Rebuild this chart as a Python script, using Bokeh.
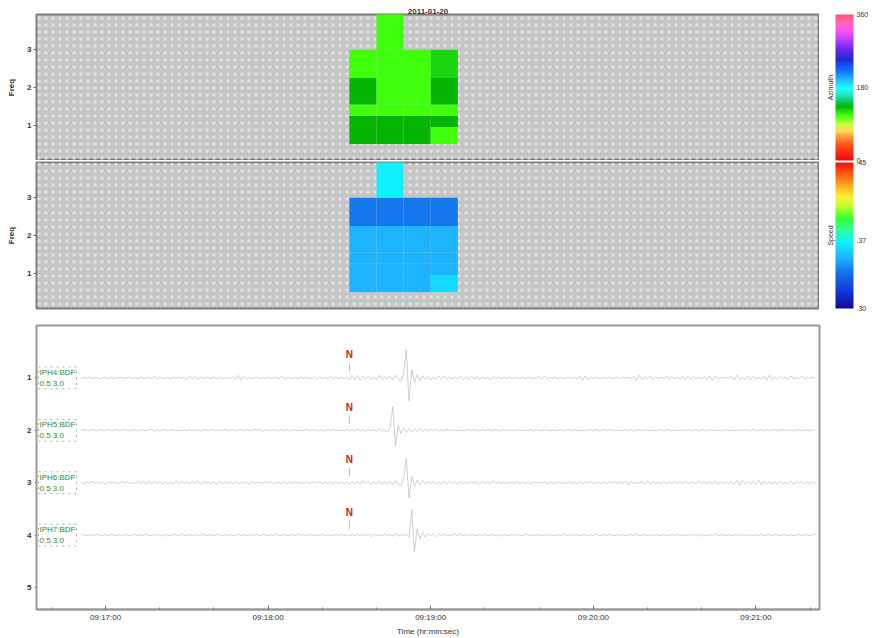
import numpy as np
import pandas as pd
from bokeh.plotting import figure
from bokeh.layouts import column, row
from bokeh.models import (Range1d, FixedTicker, ColorBar,
                          LinearColorMapper, BoxAnnotation, ColumnDataSource, Label,
                          DatetimeTickFormatter, Title)
from bokeh.core.properties import value
from bokeh.embed import file_html
from bokeh.resources import INLINE

# ---------------- data ----------------
day = "2011-01-20"
title_text = "2011-01-20"
time_window = ["09:16:34.5", "09:21:23.5"]
x_tick_labels = ["09:17:00", "09:18:00", "09:19:00", "09:20:00", "09:21:00"]
minor_tick_step_s = 20

# F-K cells: 10 s windows x frequency bands (None = no detection)
cell_time_edges = ["09:18:30", "09:18:40", "09:18:50", "09:19:00", "09:19:10"]
freq_edges = [0.5, 0.95, 1.25, 1.55, 2.25, 3.0, 4.0]
azimuth = [
    [133, 133, 133, 112],
    [133, 133, 133, 133],
    [112, 112, 112, 112],
    [133, 112, 112, 133],
    [112, 112, 112, 125],
    [None, 112, None, None],
]
speed = [
    [0.352, 0.352, 0.352, 0.362],
    [0.352, 0.352, 0.352, 0.352],
    [0.352, 0.352, 0.352, 0.352],
    [0.352, 0.352, 0.352, 0.352],
    [0.338, 0.338, 0.338, 0.338],
    [None, 0.368, None, None],
]
freq_ticks = [1, 2, 3]
azimuth_range = [0, 360]
azimuth_ticks = [0, 180, 360]
speed_range = [0.30, 0.45]
speed_ticks = [0.30, 0.37, 0.45]
speed_tick_labels = [".30", ".37", ".45"]

# waveforms
channels = ["IPH4:BDF", "IPH5:BDF", "IPH6:BDF", "IPH7:BDF"]
band_label = "0.5 3.0"
trace_rows = [1, 2, 3, 4]
wave_ticks = [1, 2, 3, 4, 5]
trace_start = "09:16:51"
sample_interval_s = 1.0
pick_time = "09:18:30"
pick_phase = "N"

amp_iph4 = [
    0, 1, -1, 2, -1, 0, 1, -2, 1, 0, -1, 2, -2, 1, 0, 1, -1, 0, 2, -1,
    1, -2, 2, -1, 0, 1, -1, 3, -3, 2, -1, 0, 1, -2, 1, 0, 2, -1, 1, -3,
    4, -2, 3, -4, 2, -1, 1, 0, -1, 2, -2, 1, -1, 0, 1, -1, 2, -3, 5, -4,
    3, -2, 1, -1, 0, 2, -2, 1, -1, 2, -1, 0, 1, -2, 3, -2, 1, 0, -1, 1,
    -2, 2, -1, 1, 0, -1, 2, -3, 2, -1, 1, -2, 3, -2, 1, -1, 2, -2, 1, -4,
    5, -3, 4, -5, 3, -2, 4, -3, 2, -4, 5, -3, 2, -2, 3, -4, 5, -3, -6, 8,
    53, -44, 16, -9, 6, -5, 4, -3, 3, -4, 2, -3, 3, -2, 4, -3, 2, -3, 2, -2,
    4, -3, 2, -3, 4, -2, 3, -4, 2, -2, 1, -3, 2, -1, 2, -2, 1, -1, 2, -1,
    0, 1, -1, 2, -2, 1, 0, -1, 1, 2, -3, 4, -2, 1, -1, 2, -2, 1, -1, 0,
    1, -1, 2, -2, 3, -5, 4, -3, 2, -2, 1, -1, 0, 1, -1, 2, -1, 0, 1, -2,
    2, -1, 1, -2, 3, -4, 5, -3, 2, -1, 3, -4, 2, -1, 1, -2, 4, -3, 2, -1,
    1, -2, 3, -4, 4, -3, 2, -2, 1, -1, 2, -3, 4, -5, 3, -2, 1, -1, 2, -1,
    3, -4, 5, -3, 2, -3, 4, -4, 3, -2, 1, -2, 3, -4, 5, -3, 2, -2, 3, -1,
    2, -3, 4, -2, 1, -2, 3, -2, 1, -1, 2, -1,
]
amp_iph5 = [
    0, 1, 0, -1, 1, 0, -1, 1, 0, 0, 1, -1, 0, 1, -1, 0, 1, 0, -1, 1,
    0, -1, 1, 0, -1, 1, 2, -2, 1, -1, 0, 1, -1, 0, 1, -1, 0, 0, 1, -1,
    1, -1, 0, 1, -2, 1, 0, -1, 1, 0, -1, 1, -1, 2, -1, 0, 1, -1, 0, 1,
    -1, 1, 0, -1, 2, -1, 1, -2, 1, 0, -1, 1, 0, -1, 1, -1, 2, -2, 1, 0,
    -1, 1, -1, 2, -1, 0, 1, -1, 0, 1, -2, 2, -1, 1, 0, -1, 1, -2, 2, -1,
    1, -2, 3, -1, 1, -2, 2, -1, 1, -2, 3, -2, 1, -4, 5, 45, -30, 10, -6, 5,
    -4, 3, -3, 2, -3, 3, -2, 2, -2, 2, -1, 2, -2, 1, -1, 2, -1, 1, 0, -1,
    1, -1, 0, 1, -1, 1, 0, -1, 1, -1, 2, -1, 0, 1, -1, 0, 1, -1, 1, 0,
    -1, 1, 0, -1, 1, -1, 2, -2, 1, 0, -1, 1, 0, -1, 1, -1, 0, 1, -1, 0,
    1, -1, 1, 0, -1, 1, -1, 0, 1, -1, 2, -1, 0, 1, -1, 1, 0, -1, 1, -1,
    0, 1, -1, 1, -2, 1, 0, -1, 1, 0, -1, 1, -1, 0, 1, -1, 1, 0, -1, 1,
    -1, 0, 1, -1, 1, -1, 0, 1, -2, 1, 0, -1, 1, 0, -1, 1, -1, 0, 1, -1,
    1, -1, 0, 1, -1, 1, 0, -1, 2, -1, 0, 1, -1, 1, -1, 0, 1, -1, 0, 1,
    -1, 1, 0, -1, 1, 0, -1, 1, 0, -1, 1, 0,
]
amp_iph6 = [
    1, -2, 2, -1, 3, -2, 1, -1, 2, -3, 2, -1, 1, 0, -2, 3, -1, 2, -2, 1,
    -1, 3, -2, 2, -3, 4, -2, 1, -1, 2, -3, 3, -2, 1, -2, 4, -3, 2, -1, 1,
    -2, 3, -2, 4, -3, 2, -1, 1, -2, 3, -4, 3, -2, 2, -1, 1, -2, 3, -2, 1,
    -1, 2, -3, 2, -1, 1, 0, -1, 2, -1, 1, -2, 1, 0, -1, 2, -2, 1, -1, 2,
    -1, 1, -2, 2, -1, 0, 1, -1, 2, -2, 1, -1, 2, -3, 2, -1, 1, -2, 2, -3,
    3, -2, 2, -3, 4, -2, 3, -4, 2, -3, 4, -3, 2, -3, 3, -4, 4, -3, -6, 8,
    46, -29, 12, -7, 5, -4, 4, -3, 3, -2, 4, -3, 2, -3, 3, -2, 3, -2, 2, -3,
    3, -2, 1, -2, 2, -1, 2, -3, 2, -1, 1, -2, 3, -2, 1, -1, 2, -2, 1, 0,
    -1, 2, -2, 1, -1, 2, -3, 2, -1, 1, -1, 2, -2, 1, 0, -1, 2, -1, 1, -2,
    2, -1, 1, -2, 3, -2, 1, -1, 2, -2, 1, 0, -1, 1, -2, 2, -1, 1, -1, 2,
    -2, 3, -4, 3, -2, 1, -1, 2, -3, 4, -3, 2, -1, 1, -2, 3, -2, 1, -1, 2,
    -1, 1, -2, 2, -1, 0, 1, -2, 3, -2, 1, -1, 2, -3, 4, -3, 2, -1, 1, -1,
    2, -3, 4, -5, 4, -3, 2, -2, 3, -4, 5, -4, 3, -2, 1, -2, 3, -4, 3, -2,
    1, -2, 3, -3, 2, -1, 2, -2, 1, -1, 2, -1,
]
amp_iph7 = [
    0, 1, -1, 0, 1, -1, 2, -1, 0, 1, -1, 1, 0, -1, 1, -2, 1, 0, -1, 1,
    0, -1, 1, -1, 2, -1, 0, 1, -1, 1, -2, 1, 0, -1, 1, 0, -1, 2, -1, 0,
    1, -1, 0, 1, -2, 2, -1, 0, 1, -1, 1, 0, -2, 1, -1, 1, 0, -1, 2, -1,
    1, -1, 0, 1, -1, 2, -2, 1, 0, -1, 1, -1, 2, -1, 0, 1, -1, 0, 1, -1,
    2, -1, 1, -2, 1, 0, -1, 1, -1, 2, -2, 1, -1, 0, 1, -1, 2, -1, 1, -2,
    1, -1, 2, -2, 1, -1, 2, -3, 2, -1, 1, -2, 2, -1, 1, -2, 3, -2, 1, -2,
    2, -4, 48, -32, 12, -7, 5, -4, 3, -2, 2, -3, 2, -1, 2, -2, 1, -1, 2, -1,
    2, -1, 1, -2, 1, 0, -1, 1, -1, 2, -1, 0, 1, -1, 1, -2, 1, 0, -1, 1,
    -1, 1, 0, -1, 2, -1, 1, -1, 0, 1, -1, 1, -2, 1, 0, -1, 1, -1, 2, -1,
    0, 1, -1, 1, -1, 0, 1, -2, 1, -1, 2, -1, 0, 1, -1, 1, 0, -1, 1, -1,
    1, -1, 0, 1, -1, 2, -1, 0, 1, -1, 1, -2, 1, 0, -1, 1, -1, 0, 1, -1,
    2, -1, 1, -1, 0, 1, -1, 1, -2, 1, 0, -1, 1, -1, 2, -1, 0, 1, -1, 1,
    -1, 0, 1, -1, 1, -2, 1, 0, -1, 1, -1, 2, -1, 0, 1, -1, 1, 0, -1, 1,
    0, -1, 1, -1, 0, 1, -1, 1, 0, -1, 1, 0,
]
amplitudes = [amp_iph4, amp_iph5, amp_iph6, amp_iph7]
amp_units_per_row = 100.0

# ---------------- styles ----------------
FONT = "Liberation Sans"
TXT = "#333333"
W = 875
LEFT = 36
HEAT_W = 819            # heat-map figures end at the frame's right edge
CB_W = W - HEAT_W       # colour-bar strip
HEAT_H_TOP, HEAT_H_BOT = 160, 158
BAR_W, BAR_LEFT = 18, 16

az_anchors = [(0, "#e80c10"), (20, "#ff2a10"), (40, "#ff5a1c"), (58, "#ff9a38"),
              (72, "#ffd858"), (88, "#c8ff40"), (100, "#80ff20"), (112, "#3cff0a"),
              (122, "#20dc12"), (133, "#04b404"), (146, "#10c860"), (162, "#20e8c0"),
              (178, "#20ffff"), (200, "#20b8ff"), (225, "#1068ff"), (250, "#2828d0"),
              (275, "#6a28f0"), (300, "#c040ff"), (320, "#ff50f0"), (340, "#ff68b8"),
              (360, "#ff5070")]
sp_anchors = [(0.300, "#180a90"), (0.315, "#1030d8"), (0.338, "#1478ec"), (0.352, "#1eb4ff"),
              (0.368, "#10f0ff"), (0.382, "#30ff90"), (0.392, "#30ff30"), (0.405, "#c0ff30"),
              (0.415, "#fff030"), (0.428, "#ffa020"), (0.440, "#ff5010"), (0.450, "#f01010")]


def ramp(anchors, n=256):
    vals = [a[0] for a in anchors]
    rgb = np.array([[int(h[i:i + 2], 16) for i in (1, 3, 5)] for _, h in anchors], float)
    xs = np.linspace(vals[0], vals[-1], n)
    out = []
    for x in xs:
        c = [int(round(np.interp(x, vals, rgb[:, k]))) for k in range(3)]
        out.append("#%02x%02x%02x" % tuple(c))
    return out


def ms(t):
    return pd.Timestamp(f"{day} {t}").value / 1e6


x_range = Range1d(ms(time_window[0]), ms(time_window[1]))
major_ticks = [ms(t) for t in x_tick_labels]
minor_times = pd.date_range(pd.Timestamp(f"{day} {time_window[0]}").ceil(f"{minor_tick_step_s}s"),
                            pd.Timestamp(f"{day} {time_window[1]}"), freq=f"{minor_tick_step_s}s")
minor_ticks = [t.value / 1e6 for t in minor_times]
hms = "%H:%M:%S"
fmt = DatetimeTickFormatter(seconds=hms, minsec=hms, minutes=hms, hourmin=hms, hours=hms,
                            milliseconds=hms, days=hms)
FREQ_RANGE = (0.06, 3.94)


def heat_panel(values, mapper, title=None, height=160, top=14, bottom=0):
    p = figure(width=HEAT_W, height=height, x_range=x_range, y_range=Range1d(*FREQ_RANGE),
               x_axis_type="datetime", output_backend="svg", toolbar_location=None,
               min_border_left=LEFT, min_border_right=0, min_border_top=top,
               min_border_bottom=bottom, title=None)
    if title:
        p.title = Title(text=title, align="center", text_font_size="8px",
                        text_font=FONT, text_color=TXT, standoff=1, offset=0)
    p.xaxis.visible = False
    p.grid.visible = False
    p.background_fill_color = "#c6c6c6"
    p.outline_line_color = "#7c7c7c"
    p.outline_line_width = 2
    p.add_layout(BoxAnnotation(fill_alpha=0, line_alpha=0, hatch_pattern="dot",
                               hatch_color="#e6e6e6", hatch_alpha=0.8, hatch_scale=7,
                               hatch_weight=1.1, level="underlay"))
    t_edges = [ms(t) for t in cell_time_edges]
    src = dict(l=[], r=[], b=[], t=[], v=[])
    for i in range(len(freq_edges) - 1):
        for j in range(len(t_edges) - 1):
            v = values[i][j]
            if v is None:
                continue
            src["l"].append(t_edges[j]); src["r"].append(t_edges[j + 1])
            src["b"].append(freq_edges[i]); src["t"].append(freq_edges[i + 1])
            src["v"].append(v)
    p.quad(left="l", right="r", bottom="b", top="t", source=ColumnDataSource(src),
           fill_color={"field": "v", "transform": mapper}, line_color=None)
    ax = p.yaxis[0]
    ax.ticker = FixedTicker(ticks=freq_ticks)
    ax.axis_label = "Freq"
    ax.axis_label_text_font_size = "8px"
    ax.axis_label_text_font_style = "bold"
    ax.axis_label_text_font = FONT
    ax.axis_label_text_color = TXT
    ax.axis_label_standoff = 8
    ax.major_label_text_font_size = "8px"
    ax.major_label_text_font_style = "bold"
    ax.major_label_text_font = FONT
    ax.major_label_text_color = TXT
    ax.major_label_standoff = 2
    ax.major_tick_out = 3
    ax.major_tick_in = 0
    ax.minor_tick_line_color = None
    ax.axis_line_color = None
    ax.major_tick_line_color = "#666666"
    return p


az_mapper = LinearColorMapper(palette=ramp(az_anchors), low=azimuth_range[0], high=azimuth_range[1])
sp_mapper = LinearColorMapper(palette=ramp(sp_anchors), low=speed_range[0], high=speed_range[1])

pA = heat_panel(azimuth, az_mapper, title=title_text, height=HEAT_H_TOP, top=14, bottom=0)
pB = heat_panel(speed, sp_mapper, height=HEAT_H_BOT, top=2, bottom=10)

# ---------------- colour-bar strip ----------------
cb_h = HEAT_H_TOP + HEAT_H_BOT
cbf = figure(width=CB_W, height=cb_h, x_range=Range1d(0, 1), y_range=Range1d(0, 1),
             output_backend="svg", toolbar_location=None, min_border=0,
             x_axis_location=None, y_axis_location=None, title=None)
cbf.grid.visible = False
cbf.outline_line_color = None
frame_h_top = HEAT_H_TOP - 14
frame_h_bot = HEAT_H_BOT - 2 - 10
for mapper, ticks, overrides, label, bottom_px, h in [
        (az_mapper, azimuth_ticks, {}, "Azimuth", HEAT_H_BOT, frame_h_top),
        (sp_mapper, speed_ticks, {t: s for t, s in zip(speed_ticks, speed_tick_labels)},
         "Speed", 10, frame_h_bot)]:
    cb = ColorBar(color_mapper=mapper, ticker=FixedTicker(ticks=ticks), width=BAR_W, height=h,
                  location=(BAR_LEFT, bottom_px), padding=0, margin=0, label_standoff=3,
                  major_label_text_font_size="7px", major_label_text_font=FONT,
                  major_label_text_color=TXT, major_tick_line_color=None,
                  bar_line_color=None, border_line_color=None, background_fill_alpha=0,
                  major_label_overrides=overrides)
    cbf.add_layout(cb, "center")
    cbf.add_layout(Label(x=BAR_LEFT - 5, y=bottom_px + h / 2, x_units="screen",
                         y_units="screen", text=label, angle=np.pi / 2,
                         text_align="center", text_baseline="middle",
                         text_font_size="7px", text_font=FONT, text_color=TXT))

# ---------------- waveform panel ----------------
pC = figure(width=W, height=320, x_range=x_range, y_range=Range1d(5.42, 0.0),
            x_axis_type="datetime", output_backend="svg", toolbar_location=None,
            min_border_left=LEFT, min_border_right=W - HEAT_W, min_border_top=7,
            min_border_bottom=29, title=None)
pC.grid.visible = False
pC.outline_line_color = "#9a9a9a"
pC.outline_line_width = 2
pC.background_fill_color = "white"

t0 = ms(trace_start)
for r, amp in zip(trace_rows, amplitudes):
    a = np.asarray(amp, float)
    tt = t0 + np.arange(len(a)) * sample_interval_s * 1000.0
    pC.line(tt, r - a / amp_units_per_row, line_color="#bababa", line_width=0.7)

pick_ms = ms(pick_time)
pC.segment(x0=[pick_ms] * len(trace_rows), x1=[pick_ms] * len(trace_rows),
           y0=[r - 0.28 for r in trace_rows], y1=[r - 0.12 for r in trace_rows],
           line_color="#e03030", line_alpha=0.45, line_width=1)
pC.text(x=[pick_ms] * len(trace_rows), y=[r - 0.44 for r in trace_rows],
        text=[pick_phase] * len(trace_rows), text_color="#d82020",
        text_font=value(FONT), text_font_size="10px", text_font_style="bold",
        text_align="center", text_baseline="middle")

for r, ch in zip(trace_rows, channels):
    pC.add_layout(Label(x=x_range.start, y=r, x_offset=2, text=f"{ch}\n{band_label}",
                        text_font_size="8px", text_font=FONT, text_color="#2e8f2e",
                        text_baseline="middle", text_align="left",
                        border_line_color="#aaaaaa", border_line_dash="dotted",
                        background_fill_color="white", padding=1))

ya = pC.yaxis[0]
ya.ticker = FixedTicker(ticks=wave_ticks)
ya.major_label_text_font_size = "8px"
ya.major_label_text_font_style = "bold"
ya.major_label_text_font = FONT
ya.major_label_text_color = TXT
ya.major_label_standoff = 3
ya.major_tick_out = 2
ya.major_tick_in = 0
ya.minor_tick_line_color = None
ya.axis_line_color = None
ya.major_tick_line_color = "#888888"

xa = pC.xaxis[0]
xa.ticker = FixedTicker(ticks=major_ticks, minor_ticks=minor_ticks)
xa.formatter = fmt
xa.axis_label = "Time (hr:min:sec)"
xa.axis_label_text_font_size = "8px"
xa.axis_label_text_font_style = "normal"
xa.axis_label_text_font = FONT
xa.axis_label_text_color = TXT
xa.axis_label_standoff = 2
xa.major_label_text_font_size = "8px"
xa.major_label_text_font = FONT
xa.major_label_text_color = TXT
xa.major_label_standoff = 3
xa.major_tick_in = 4
xa.major_tick_out = 0
xa.minor_tick_in = 2
xa.minor_tick_out = 0
xa.axis_line_color = "#9a9a9a"
xa.axis_line_width = 2
xa.major_tick_line_color = "#777777"
xa.minor_tick_line_color = "#777777"

layout = column(row(column(pA, pB, spacing=0), cbf, spacing=0), pC, spacing=0)
open("out.html", "w").write(file_html(layout, INLINE))
